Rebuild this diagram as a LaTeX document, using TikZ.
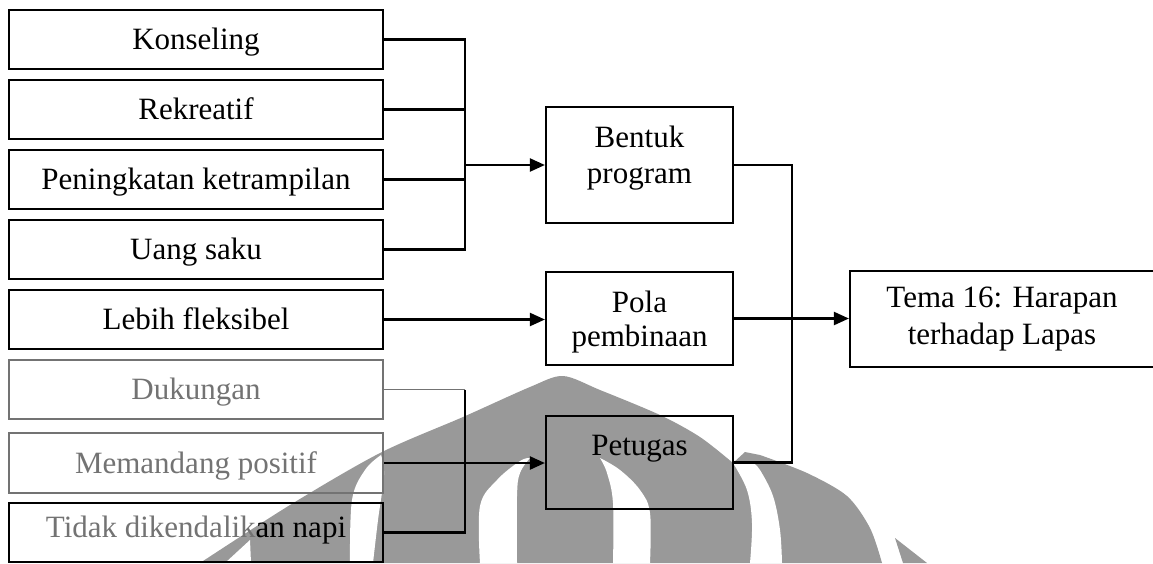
\documentclass[tikz,border=0pt]{standalone}
\usepackage{fontspec}
\setmainfont{Liberation Serif}
\usetikzlibrary{arrows.meta}
\definecolor{wm}{gray}{0.6}
\definecolor{faded}{gray}{0.45}
\begin{document}
\begin{tikzpicture}[x=1pt,y=-1pt,
  font=\fontsize{31}{36}\selectfont,
  conn/.style={line width=2.2pt},
  arr/.style={conn,-{Triangle[length=15pt,width=13pt]}},
  lbox/.style={draw,line width=2.2pt,minimum width=374pt,minimum height=59pt,
               inner sep=0pt,text height=20.5pt,text depth=0pt},
  rbox/.style={draw,line width=2.2pt,minimum width=187pt,inner sep=0pt},
  boxtext/.style={align=center,inner sep=0pt,anchor=north}
]
\useasboundingbox (0,0) rectangle (1153,563);
\clip (0,0) rectangle (1153,563);

% background emblem
\fill[wm] plot[smooth,tension=0.5] coordinates {(200,563) (290,505) (380,453) (463,417) (530,387) (563,376)
          (600,390) (660,415) (700,437) (733,463)}
   -- (745,452) -- (760,455)
   -- plot[smooth,tension=0.5] coordinates {(760,455) (807,473) (847,496) (870,528) (882,563)} -- cycle;
\fill[wm] (895,538) -- (927,563) -- (903,563) -- cycle;
\fill[white] (225,563) -- (250,540) -- (251,563) -- cycle;
\fill[white] plot[smooth,tension=0.6] coordinates {(350,563) (352,500) (365,470) (381,455)}
   -- plot[smooth,tension=0.6] coordinates {(381,455) (384,475) (378,520) (373,563)} -- cycle;
\fill[white] plot[smooth,tension=0.6] coordinates {(480,563) (480,506) (497,480) (520,461) (530,458)}
   -- plot[smooth,tension=0.6] coordinates {(530,458) (520,473) (517,496) (517,563)} -- cycle;
\fill[white] plot[smooth,tension=0.6] coordinates {(650,563) (650,513) (640,490) (620,470) (600,458)}
   -- plot[smooth,tension=0.6] coordinates {(600,458) (607,473) (613,503) (613,563)} -- cycle;
\fill[white] plot[smooth,tension=0.6] coordinates {(733,463) (747,490) (752,523) (750,563)}
   -- plot[smooth,tension=0.6] coordinates {(782,563) (780,530) (773,496) (760,470) (753,463)} -- cycle;

% left column
\node[lbox] (konseling)   at (196,39.5)  {Konseling};
\node[lbox] (rekreatif)   at (196,109.5) {Rekreatif};
\node[lbox] (peningkatan) at (196,179.5) {Peningkatan ketrampilan};
\node[lbox] (uang)        at (196,249.5) {Uang saku};
\node[lbox] (lebih)       at (196,319.5) {Lebih fleksibel};
\node[lbox,draw=faded,text=faded] (dukungan) at (196,389.5) {Dukungan};
\node[lbox,draw=faded,text=faded,minimum height=60pt] (memandang) at (196,463) {Memandang positif};
\node[lbox,text depth=11pt] (tidak) at (196,532.5) {\textcolor{faded}{Tidak dikendalik}an napi};

% middle column
\node[rbox,minimum height=116pt] (bentuk)  at (639.5,165)   {};
\node[rbox,minimum height=93pt]  (pola)    at (639.5,318.5) {};
\node[rbox,minimum height=93pt]  (petugas) at (639.5,462.5) {};
\node[boxtext] (bentukT) at (639.5,125.5) {Bentuk\\program};
\node[boxtext,font=\fontsize{31}{34}\selectfont] (polaT) at (639.5,290.8) {Pola\\pembinaan};
\node[anchor=base,inner sep=0pt] (petugasT) at (639.5,455) {Petugas};

% theme
\node[draw,line width=2.2pt,minimum width=304pt,minimum height=96pt,inner sep=0pt] (tema) at (1002,319) {};
\node[boxtext,font=\fontsize{31}{37}\selectfont] (temaT) at (1002,287) {Tema 16: Harapan\\terhadap Lapas};

% connectors
\coordinate (busA) at (465,0);
\coordinate (busB) at (465,0);
\coordinate (busC) at (792,0);
\draw[conn] (konseling.east) -- (konseling.east -| busA) -- (uang.east -| busA) -- (uang.east);
\draw[conn] (rekreatif.east) -- (rekreatif.east -| busA);
\draw[conn] (peningkatan.east) -- (peningkatan.east -| busA);
\draw[arr] (bentuk.west -| busA) -- (bentuk.west);

\draw[arr] (lebih.east) -- (lebih.east -| pola.west);

\draw[line width=1.4pt,draw=faded] (dukungan.east) -- (dukungan.east -| busB);
\draw[conn] (dukungan.east -| busB) -- (tidak.east -| busB) -- (tidak.east);
\draw[arr] (memandang.east) -- (memandang.east -| petugas.west);

\draw[conn] (bentuk.east) -- (bentuk.east -| busC) -- (petugas.east -| busC) -- (petugas.east);
\draw[arr] (pola.east) -- (pola.east -| tema.west);
\end{tikzpicture}
\end{document}
